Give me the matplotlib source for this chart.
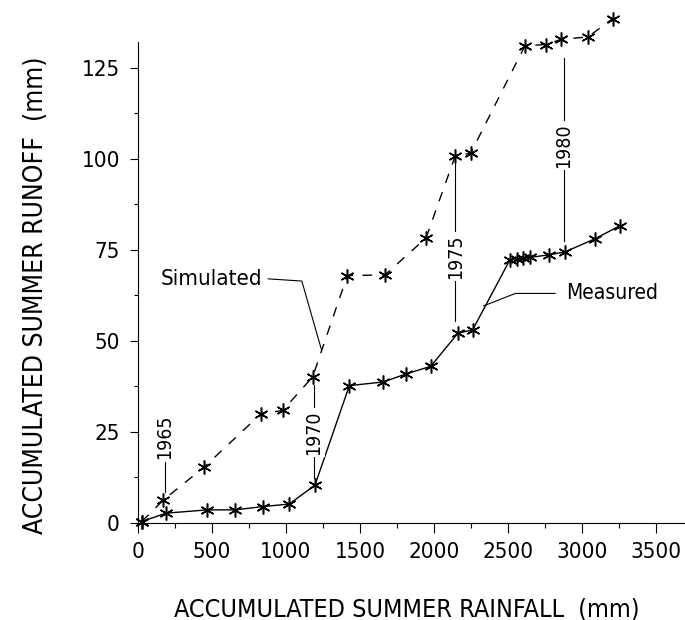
import matplotlib
matplotlib.use("Agg")
import matplotlib.pyplot as plt
from matplotlib.ticker import MultipleLocator

# ---- data ----
sim_rain = [25, 171, 446, 829, 978, 1180, 1414, 1669, 1946, 2142, 2248,
            2615, 2757, 2856, 3041, 3207]
sim_runoff = [0.4, 6.3, 15.3, 29.9, 30.9, 40.1, 67.9, 68.1, 78.2, 100.6, 101.5,
              131.0, 131.3, 132.7, 133.4, 138.4]

meas_rain = [25, 189, 468, 655, 842, 1022, 1196, 1428, 1657, 1811, 1978, 2162,
             2261, 2514, 2559, 2603, 2649, 2779, 2885, 3088, 3257]
meas_runoff = [0.4, 2.7, 3.6, 3.6, 4.5, 5.2, 10.4, 37.7, 38.7, 40.9, 43.0, 52.1,
               53.0, 72.3, 72.5, 72.6, 72.9, 73.6, 74.4, 78.0, 81.6]

x_ticks = [0, 500, 1000, 1500, 2000, 2500, 3000, 3500]
y_ticks = [0, 25, 50, 75, 100, 125]

# year annotations
years = ["1965", "1970", "1975", "1980"]
year_x = [180, 1186, 2145, 2878]
year_text_y = [23.6, 24.8, 73.1, 103.6]
year_line_lo = [8.6, 12.4, 55.5, 77.5]
year_line_hi = [17.2, 38.0, 98.6, 127.7]

FONT = "DejaVu Sans"
plt.rcParams["font.family"] = [FONT]
COND = "condensed"

fig = plt.figure(figsize=(6.85, 6.2), dpi=100)
ax = fig.add_axes([138 / 685, 97 / 620, 547 / 685, 481 / 620])
ax.set_xlim(0, 3696)
ax.set_ylim(0, 132)

star = (6, 2, 0)
ax.plot(sim_rain, sim_runoff, color="black", lw=1.0, linestyle=(0, (7, 7)),
        marker=star, markersize=10, markeredgewidth=1.1, clip_on=False, zorder=3)
ax.plot(meas_rain, meas_runoff, color="black", lw=1.0, linestyle="-",
        marker=star, markersize=10, markeredgewidth=1.1, clip_on=False, zorder=3)

# year leader lines + labels
for lab, x, ty, lo, hi in zip(years, year_x, year_text_y, year_line_lo, year_line_hi):
    ax.plot([x, x], [lo, hi], color="black", lw=0.8, zorder=2)
    ax.text(x, ty, lab, rotation=90, ha="center", va="center", fontsize=14,
            fontstretch=COND,
            bbox=dict(boxstyle="square,pad=0.12", fc="white", ec="none"), zorder=4)

# Simulated label with leader
ax.text(493, 67.0, "Simulated", ha="center", va="center", fontsize=16,
        fontstretch=COND)
ax.plot([880, 1107, 1240], [67.0, 66.4, 47.5], color="black", lw=0.8)

# Measured label with leader
ax.text(3203, 63.0, "Measured", ha="center", va="center", fontsize=15,
        fontstretch=COND)
ax.plot([2818, 2550, 2336], [63.0, 63.0, 59.6], color="black", lw=0.8)

# axes styling
for s in ["top", "right"]:
    ax.spines[s].set_visible(False)
for s in ["left", "bottom"]:
    ax.spines[s].set_linewidth(0.8)

ax.set_xticks(x_ticks)
ax.set_yticks(y_ticks)
ax.xaxis.set_minor_locator(MultipleLocator(250))
ax.yaxis.set_minor_locator(MultipleLocator(12.5))
ax.tick_params(axis="x", which="major", direction="out", length=7, width=0.8,
               pad=7, labelsize=16)
ax.tick_params(axis="x", which="minor", direction="out", length=3.5, width=0.8)
ax.tick_params(axis="y", which="major", direction="out", length=6, width=0.8,
               pad=7, labelsize=16)
ax.tick_params(axis="y", which="minor", direction="out", length=3, width=0.8)
for lbl in ax.get_xticklabels() + ax.get_yticklabels():
    lbl.set_fontstretch(COND)

fig.text(407 / 685, 1 - 609 / 620, "ACCUMULATED SUMMER RAINFALL  (mm)",
         ha="center", va="center", fontsize=18, fontstretch=COND)
fig.text(36 / 685, 1 - 295 / 620, "ACCUMULATED SUMMER RUNOFF  (mm)",
         ha="center", va="center", rotation=90, fontsize=19, fontstretch=COND)

fig.savefig("out.png", dpi=100, facecolor="white")
